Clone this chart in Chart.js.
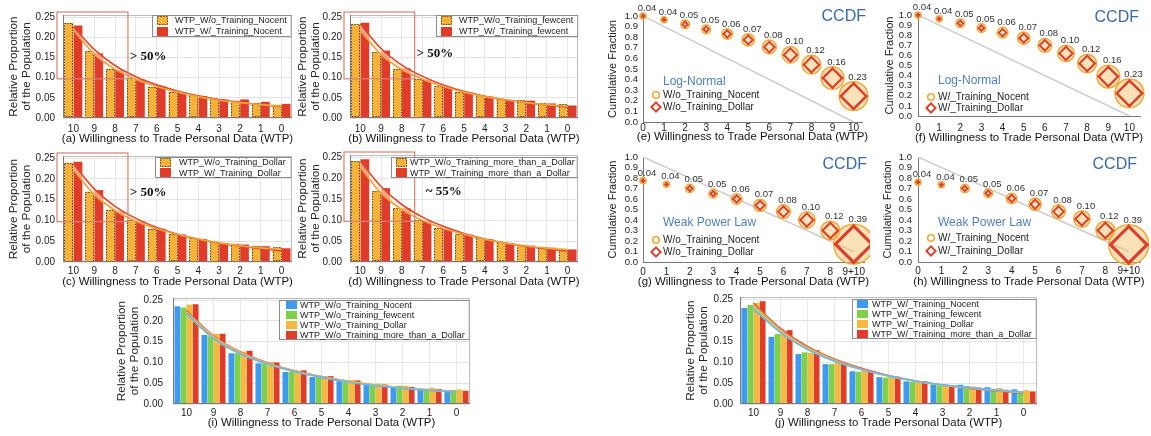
<!DOCTYPE html>
<html><head><meta charset="utf-8">
<script src="https://cdn.jsdelivr.net/npm/chart.js@4.4.1/dist/chart.umd.min.js"></script>
<style>
html,body{margin:0;padding:0;background:#fff;}
body{width:1151px;height:436px;position:relative;overflow:hidden;}
canvas{position:absolute;}
</style></head><body>
<script>
const FONT = '"Liberation Sans", Arial, Helvetica, sans-serif';
const SERIF = '"Liberation Serif", "Times New Roman", serif';

// ---------------- data ----------------
const wtpLabels = ['10','9','8','7','6','5','4','3','2','1','0'];

const woNocent  = [0.235, 0.166, 0.122, 0.098, 0.077, 0.065, 0.056, 0.048, 0.043, 0.037, 0.033];
const wNocent   = [0.229, 0.160, 0.119, 0.095, 0.078, 0.064, 0.054, 0.046, 0.046, 0.040, 0.035];
const woFewcent = [0.232, 0.163, 0.122, 0.097, 0.078, 0.065, 0.056, 0.048, 0.044, 0.037, 0.034];
const wFewcent  = [0.236, 0.167, 0.123, 0.095, 0.077, 0.063, 0.053, 0.044, 0.043, 0.036, 0.031];
const woDollar  = [0.239, 0.169, 0.126, 0.101, 0.080, 0.067, 0.058, 0.049, 0.044, 0.039, 0.035];
const wDollar   = [0.241, 0.173, 0.122, 0.098, 0.080, 0.066, 0.055, 0.046, 0.042, 0.038, 0.033];
const woMore    = [0.240, 0.169, 0.128, 0.100, 0.081, 0.067, 0.057, 0.047, 0.041, 0.036, 0.032];
const wMore     = [0.245, 0.176, 0.128, 0.098, 0.079, 0.065, 0.054, 0.045, 0.039, 0.034, 0.030];

// fitted curves
const fitWoNocent  = [0.218, 0.158, 0.121, 0.096, 0.078, 0.064, 0.053, 0.044, 0.038, 0.033, 0.029];
const fitWNocent   = [0.226, 0.170, 0.130, 0.102, 0.082, 0.067, 0.055, 0.046, 0.039, 0.033, 0.028];
const fitWoFewcent = [0.216, 0.157, 0.120, 0.096, 0.078, 0.064, 0.053, 0.045, 0.038, 0.033, 0.029];
const fitWFewcent  = [0.232, 0.172, 0.131, 0.103, 0.082, 0.066, 0.054, 0.045, 0.038, 0.032, 0.027];
const fitWoDollar  = [0.222, 0.162, 0.124, 0.098, 0.080, 0.066, 0.055, 0.046, 0.039, 0.034, 0.030];
const fitWDollar   = [0.236, 0.176, 0.134, 0.105, 0.083, 0.067, 0.055, 0.045, 0.038, 0.032, 0.027];
const fitWoMore    = [0.225, 0.164, 0.125, 0.099, 0.080, 0.066, 0.054, 0.045, 0.038, 0.033, 0.029];
const fitWMore     = [0.240, 0.180, 0.137, 0.107, 0.085, 0.068, 0.055, 0.045, 0.037, 0.031, 0.026];

// CCDF panels
const ccdfX      = [0, 1, 2, 3, 4, 5, 6, 7, 8, 9, 10];
const ccdfXpl    = [0, 1, 2, 3, 4, 5, 6, 7, 8, 9];
const ccdfXplLbl = ['0','1','2','3','4','5','6','7','8','9+10'];
const eNocent = [1.0, 0.965, 0.921, 0.874, 0.830, 0.774, 0.708, 0.635, 0.541, 0.415, 0.245];
const eDollar = [1.0, 0.965, 0.922, 0.876, 0.830, 0.774, 0.707, 0.633, 0.540, 0.414, 0.244];
const eProp   = [0.04, 0.04, 0.05, 0.05, 0.06, 0.07, 0.08, 0.10, 0.12, 0.16, 0.23];
const fNocent = [1.0, 0.962, 0.918, 0.870, 0.825, 0.770, 0.700, 0.620, 0.520, 0.390, 0.225];
const fDollar = [1.0, 0.962, 0.918, 0.870, 0.825, 0.770, 0.700, 0.620, 0.520, 0.390, 0.225];
const fProp   = [0.04, 0.04, 0.05, 0.05, 0.06, 0.07, 0.08, 0.10, 0.12, 0.16, 0.23];
const gNocent = [0.775, 0.740, 0.700, 0.650, 0.600, 0.540, 0.480, 0.400, 0.300, 0.170];
const gDollar = [0.775, 0.740, 0.700, 0.650, 0.600, 0.540, 0.480, 0.400, 0.300, 0.170];
const gProp   = [0.04, 0.04, 0.05, 0.05, 0.06, 0.07, 0.08, 0.10, 0.12, 0.39];
const hNocent = [0.760, 0.735, 0.700, 0.655, 0.605, 0.550, 0.480, 0.410, 0.300, 0.165];
const hDollar = [0.760, 0.735, 0.700, 0.655, 0.605, 0.550, 0.480, 0.410, 0.300, 0.165];
const hProp   = [0.04, 0.04, 0.05, 0.05, 0.06, 0.07, 0.08, 0.10, 0.12, 0.39];
const refLogX = [0, 10], refLogY = [1, 0];
const refPlX  = [0, 9],  refPlY  = [1, 0.1];

// ---------------- styles ----------------
const ORANGE = '#F5B237', RED = '#E13C2A', BLUE = '#3C9BF1', GREEN = '#7ED04B', ORANGE2 = '#F7B83E';

Chart.defaults.font.family = FONT;
Chart.defaults.color = '#222';

function mk(box) {
  const c = document.createElement('canvas');
  c.width = box.w; c.height = box.h;
  c.style.cssText = `left:${box.x}px;top:${box.y}px;width:${box.w}px;height:${box.h}px`;
  document.body.appendChild(c);
  return c;
}
function zeroPad(s) { s.paddingTop = 0; s.paddingBottom = 0; s.paddingLeft = 0; s.paddingRight = 0; }

function capPlugin(text, y) {
  return { id: 'cap', afterDraw(chart) {
    const ctx = chart.ctx, a = chart.chartArea;
    ctx.save(); ctx.font = '11.4px ' + FONT; ctx.fillStyle = '#111';
    ctx.textAlign = 'center'; ctx.textBaseline = 'middle';
    ctx.fillText(text, (a.left + a.right) / 2, y);
    ctx.restore();
  }};
}

function barPanel(p) {
  const cv = mk(p.box);
  const datasets = [];
  p.fits.forEach((f, i) => datasets.push({
    type: 'line', data: f.data, borderColor: f.color, borderWidth: 1.6, pointRadius: 0,
    cubicInterpolationMode: 'monotone', fill: i === 0 ? false : '-1', backgroundColor: p.band, order: 0
  }));
  p.bars.forEach(b => datasets.push({
    type: 'bar', data: b.data, backgroundColor: b.color, borderWidth: 0, dotted: !!b.dotted, order: 1,
    categoryPercentage: p.catPct, barPercentage: p.barPct
  }));
  const plugins = [
    { id: 'frame', beforeDatasetsDraw(chart) {
      const ctx = chart.ctx, a = chart.chartArea;
      ctx.save(); ctx.lineWidth = 1;
      ctx.strokeStyle = '#bdbdbd';
      ctx.beginPath(); ctx.moveTo(a.left, a.top + 0.5); ctx.lineTo(a.right - 0.5, a.top + 0.5); ctx.lineTo(a.right - 0.5, a.bottom); ctx.stroke();
      ctx.restore();
    }, afterDatasetsDraw(chart) {
      const ctx = chart.ctx, a = chart.chartArea;
      ctx.save(); ctx.lineWidth = 1; ctx.strokeStyle = '#7a7a7a';
      ctx.beginPath(); ctx.moveTo(a.left + 0.5, a.top); ctx.lineTo(a.left + 0.5, a.bottom - 0.5); ctx.lineTo(a.right, a.bottom - 0.5); ctx.stroke();
      ctx.restore();
    }},
    { id: 'dotted', afterDatasetDraw(chart, args) {
      const ds = chart.data.datasets[args.index];
      if (!ds.dotted) return;
      const ctx = chart.ctx;
      ctx.save(); ctx.setLineDash([1.4, 1.4]); ctx.strokeStyle = '#4b4030'; ctx.lineWidth = 1;
      args.meta.data.forEach(el => {
        const { x, y, base, width } = el.getProps(['x', 'y', 'base', 'width'], true);
        ctx.strokeRect(Math.round(x - width / 2) + 0.5, Math.round(y) + 0.5, Math.round(width) - 1, Math.round(base - y) - 1);
      });
      ctx.restore();
    }},
    { id: 'annot', afterDatasetsDraw(chart) {
      if (!p.annot) return;
      const ctx = chart.ctx, a = chart.chartArea, xs = chart.scales.x, ys = chart.scales.y;
      const r = xs.getPixelForValue(p.annot.boxTo);
      const b = ys.getPixelForValue(p.annot.boxBottom);
      ctx.save();
      ctx.strokeStyle = '#d9806f'; ctx.lineWidth = 1.2;
      ctx.strokeRect(a.left - 6, a.top - 3, r - (a.left - 6), b - (a.top - 3));
      ctx.font = 'bold 13px ' + SERIF; ctx.fillStyle = '#111';
      ctx.textAlign = 'left'; ctx.textBaseline = 'middle';
      ctx.fillText(p.annot.text, r + p.annot.dx, ys.getPixelForValue(p.annot.textY));
      ctx.restore();
    }},
    { id: 'boxLegend', afterDraw(chart) {
      const o = p.legend, ctx = chart.ctx, a = chart.chartArea;
      ctx.save();
      ctx.font = '9px ' + FONT;
      const tw = Math.max(...o.items.map(it => ctx.measureText(it.text).width));
      const w = o.padL + o.sw + o.gap + tw + o.padR;
      const h = o.padT * 2 + o.items.length * o.rowH;
      const x0 = Math.round(a.right - w), y0 = Math.round(a.top + o.dy);
      ctx.fillStyle = 'rgba(255,255,255,0.95)'; ctx.fillRect(x0, y0, w, h);
      ctx.strokeStyle = '#8c8c8c'; ctx.lineWidth = 1; ctx.strokeRect(x0 + 0.5, y0 + 0.5, w - 1, h - 1);
      o.items.forEach((it, i) => {
        const cy = y0 + o.padT + o.rowH * (i + 0.5);
        const sx = x0 + o.padL, sy = Math.round(cy - o.sh / 2);
        ctx.fillStyle = it.color; ctx.fillRect(sx, sy, o.sw, o.sh);
        if (it.dotted) {
          ctx.save(); ctx.setLineDash([1.4, 1.4]); ctx.strokeStyle = '#4b4030';
          ctx.strokeRect(sx + 0.5, sy + 0.5, o.sw - 1, o.sh - 1); ctx.restore();
        }
        ctx.fillStyle = '#222'; ctx.textAlign = 'left'; ctx.textBaseline = 'middle';
        ctx.fillText(it.text, sx + o.sw + o.gap, cy + 0.5);
      });
      ctx.restore();
    }},
    capPlugin(p.caption, p.capY - p.box.y)
  ];
  new Chart(cv, {
    type: 'bar',
    data: { labels: wtpLabels, datasets },
    plugins,
    options: {
      responsive: false, animation: false, devicePixelRatio: 1, events: [],
      layout: { autoPadding: false, padding: { left: 0, top: p.area.T - p.box.y, right: p.box.x + p.box.w - p.area.R, bottom: 0 } },
      plugins: { legend: { display: false }, tooltip: { enabled: false } },
      scales: {
        x: {
          type: 'category', offset: true,
          grid: { offset: false, color: '#e8e8e8', drawTicks: false }, border: { display: false },
          ticks: { autoSkip: false, maxRotation: 0, padding: p.xtPad, color: '#222', font: { size: 10 } },
          afterFit(s) { s.height = p.box.y + p.box.h - p.area.B; zeroPad(s); }
        },
        y: {
          min: 0, max: 0.255,
          grid: { color: '#e3e3e3', drawTicks: false }, border: { display: false },
          ticks: { stepSize: 0.05, includeBounds: false, autoSkip: false, padding: p.ytPad, color: '#222', font: { size: 10 }, callback: v => v.toFixed(2) },
          title: { display: true, text: ['Relative Proportion', 'of the Population'], color: '#222', font: { size: 11.8, lineHeight: 1.1 }, padding: { top: p.ytitlePad, bottom: 0 } },
          afterFit(s) { s.width = p.area.L - p.box.x; zeroPad(s); }
        }
      }
    }
  });
}

function diamondR(v) { return 34 * Math.pow(Math.max(v - 0.035, 0.0005), 0.6); }
function circleR(v) { return Math.max(3, diamondR(v) + 1.6); }

function ccdfPanel(p) {
  const cv = mk(p.box);
  const circ = p.xs.map((x, i) => ({ x, y: p.noc[i] }));
  const dia = p.xs.map((x, i) => ({ x, y: p.dol[i] }));
  const ref = p.refX.map((x, i) => ({ x, y: p.refY[i] }));
  const pv = c => (c && c.dataIndex !== undefined ? p.prop[c.dataIndex] : 0.05);
  const plugins = [
    { id: 'plabels', afterDatasetsDraw(chart) {
      const ctx = chart.ctx, meta = chart.getDatasetMeta(1);
      ctx.save(); ctx.font = '9.5px ' + FONT; ctx.fillStyle = '#333';
      ctx.textAlign = 'center'; ctx.textBaseline = 'alphabetic';
      meta.data.forEach((el, i) => {
        const r = circleR(p.prop[i]);
        ctx.fillText(p.prop[i].toFixed(2), el.x + 4, el.y - r - 2);
      });
      ctx.restore();
    }},
    { id: 'clegend', afterDraw(chart) {
      const ctx = chart.ctx, a = chart.chartArea;
      ctx.save();
      ctx.font = '12px ' + FONT; ctx.fillStyle = '#4f7fb8'; ctx.textAlign = 'left'; ctx.textBaseline = 'middle';
      ctx.fillText(p.legTitle, a.left + 20, a.top + 66);
      ctx.font = '10px ' + FONT; ctx.fillStyle = '#222';
      const y1 = a.top + p.legY1, y2 = a.top + p.legY2;
      ctx.lineWidth = 1.6; ctx.strokeStyle = '#EEAA3A';
      ctx.beginPath(); ctx.arc(a.left + 13, y1, 3.3, 0, Math.PI * 2); ctx.stroke();
      ctx.lineWidth = 2; ctx.strokeStyle = '#D8412C';
      const dx = a.left + 13, r = 4.6;
      ctx.beginPath(); ctx.moveTo(dx, y2 - r); ctx.lineTo(dx + r, y2); ctx.lineTo(dx, y2 + r); ctx.lineTo(dx - r, y2); ctx.closePath(); ctx.stroke();
      ctx.fillText(p.legItems[0], a.left + 20, y1 + 0.5);
      ctx.fillText(p.legItems[1], a.left + 20, y2 + 0.5);
      ctx.font = '16px ' + FONT; ctx.fillStyle = '#3a6aa8'; ctx.textAlign = 'right';
      ctx.fillText('CCDF', a.right + p.ccdfDx, a.top + p.ccdfDy);
      ctx.restore();
    }},
    capPlugin(p.caption, p.capY - p.box.y)
  ];
  new Chart(cv, {
    type: 'scatter',
    data: { datasets: [
      { data: dia, pointStyle: 'rectRot', pointRadius: c => diamondR(pv(c)), pointBorderWidth: c => 1.6 + 4 * pv(c),
        pointBorderColor: '#D8412C', pointBackgroundColor: 'rgba(255,255,255,0)', order: 0, clip: false },
      { data: circ, pointStyle: 'circle', pointRadius: c => circleR(pv(c)), pointBorderWidth: 1.5,
        pointBorderColor: '#EEAA3A', pointBackgroundColor: 'rgba(245,188,95,0.45)', order: 1, clip: false },
      { data: ref, showLine: true, borderColor: '#cccccc', borderWidth: 1.5, pointRadius: 0, order: 2 }
    ]},
    plugins,
    options: {
      responsive: false, animation: false, devicePixelRatio: 1, events: [],
      layout: { autoPadding: false, padding: { left: 0, top: p.area.T - p.box.y, right: p.box.x + p.box.w - p.area.R, bottom: 0 } },
      plugins: { legend: { display: false }, tooltip: { enabled: false } },
      scales: {
        x: {
          type: 'linear', min: 0, max: p.xmax,
          grid: { display: false, drawTicks: false }, border: { display: true, color: '#777', width: 1 },
          ticks: { stepSize: 1, includeBounds: false, autoSkip: false, maxRotation: 0, padding: p.xtPad, color: '#222', font: { size: 10 },
                   callback: v => (p.xLabels ? p.xLabels[v] : String(v)) },
          afterFit(s) { s.height = p.box.y + p.box.h - p.area.B; zeroPad(s); }
        },
        y: {
          min: 0, max: 1,
          grid: { display: false, drawTicks: false }, border: { display: true, color: '#777', width: 1 },
          ticks: { stepSize: 0.1, autoSkip: false, padding: p.ytPad, color: '#222', font: { size: 9.5 }, callback: v => v.toFixed(1) },
          title: { display: true, text: 'Cumulative Fraction', color: '#222', font: { size: 11, lineHeight: 1.2 }, padding: { top: p.ytitlePad, bottom: 0 } },
          afterFit(s) { s.width = p.area.L - p.box.x; zeroPad(s); }
        }
      }
    }
  });
}

const cap = l => `(${l}) Willingness to Trade Personal Data (WTP)`;
const legAB = { dy: 0, rowH: 11, padT: 0, padL: 5, sw: 11, sh: 9, gap: 7, padR: 5 };
const legCD = { dy: 1, rowH: 10.5, padT: 0, padL: 5, sw: 11, sh: 9, gap: 6, padR: 4 };

barPanel({ box: { x: 0, y: 0, w: 296, h: 145 }, area: { L: 63, T: 15, R: 292, B: 118 },
  ytitlePad: 7.5, ytPad: 8, xtPad: 5, capY: 138.5, caption: cap('a'), catPct: 0.88, barPct: 0.95,
  band: 'rgba(252,234,205,0.6)',
  bars: [{ data: woNocent, color: ORANGE, dotted: true }, { data: wNocent, color: RED }],
  fits: [{ data: fitWoNocent, color: '#F2A23A' }, { data: fitWNocent, color: '#DC4A33' }],
  legend: Object.assign({ items: [{ text: 'WTP_W/o_Training_Nocent', color: ORANGE, dotted: true }, { text: 'WTP_W/_Training_Nocent', color: RED }] }, legAB),
  annot: { boxTo: 2.62, boxBottom: 0.097, text: '> 50%', textY: 0.151, dx: 2 } });

barPanel({ box: { x: 296, y: 0, w: 290, h: 145 }, area: { L: 350, T: 15, R: 578, B: 118 },
  ytitlePad: 0.5, ytPad: 8, xtPad: 5, capY: 138.5, caption: cap('b'), catPct: 0.88, barPct: 0.95,
  band: 'rgba(252,234,205,0.6)',
  bars: [{ data: woFewcent, color: ORANGE, dotted: true }, { data: wFewcent, color: RED }],
  fits: [{ data: fitWoFewcent, color: '#F2A23A' }, { data: fitWFewcent, color: '#DC4A33' }],
  legend: Object.assign({ items: [{ text: 'WTP_W/o_Training_fewcent', color: ORANGE, dotted: true }, { text: 'WTP_W/_Training_fewcent', color: RED }] }, legAB),
  annot: { boxTo: 2.62, boxBottom: 0.097, text: '> 50%', textY: 0.160, dx: 2 } });

barPanel({ box: { x: 0, y: 145, w: 296, h: 145 }, area: { L: 63, T: 156, R: 292, B: 262 },
  ytitlePad: 7.5, ytPad: 8, xtPad: 3, capY: 281.5, caption: cap('c'), catPct: 0.88, barPct: 0.95,
  band: 'rgba(252,234,205,0.6)',
  bars: [{ data: woDollar, color: ORANGE, dotted: true }, { data: wDollar, color: RED }],
  fits: [{ data: fitWoDollar, color: '#F2A23A' }, { data: fitWDollar, color: '#DC4A33' }],
  legend: Object.assign({ items: [{ text: 'WTP_W/o_Training_Dollar', color: ORANGE, dotted: true }, { text: 'WTP_W/_Training_Dollar', color: RED }] }, legCD, { gap: 8, padR: 6 }),
  annot: { boxTo: 2.62, boxBottom: 0.097, text: '> 50%', textY: 0.166, dx: 2 } });

barPanel({ box: { x: 296, y: 145, w: 290, h: 145 }, area: { L: 350, T: 155, R: 578, B: 262 },
  ytitlePad: 0.5, ytPad: 8, xtPad: 3, capY: 281.5, caption: cap('d'), catPct: 0.88, barPct: 0.95,
  band: 'rgba(252,234,205,0.6)',
  bars: [{ data: woMore, color: ORANGE, dotted: true }, { data: wMore, color: RED }],
  fits: [{ data: fitWoMore, color: '#F2A23A' }, { data: fitWMore, color: '#DC4A33' }],
  legend: Object.assign({ items: [{ text: 'WTP_W/o_Training_more_than_a_Dollar', color: ORANGE, dotted: true }, { text: 'WTP_W/_Training_more_than_a_Dollar', color: RED }] }, legCD, { dy: 2, gap: 3, padR: 3 }),
  annot: { boxTo: 2.62, boxBottom: 0.097, text: '~ 55%', textY: 0.167, dx: 11 } });

barPanel({ box: { x: 105, y: 290, w: 375, h: 146 }, area: { L: 173, T: 298, R: 470, B: 404 },
  ytitlePad: 10.5, ytPad: 10, xtPad: 3, capY: 423, caption: cap('i'), catPct: 0.9, barPct: 0.96,
  band: 'rgba(255,242,215,0.35)',
  bars: [{ data: woNocent, color: BLUE }, { data: woFewcent, color: GREEN }, { data: woDollar, color: ORANGE2 }, { data: woMore, color: RED }],
  fits: [{ data: fitWoNocent, color: '#74B3EE' }, { data: fitWoFewcent, color: '#98D573' }, { data: fitWoDollar, color: '#F3B552' }, { data: fitWoMore, color: '#E0543F' }],
  legend: { items: [{ text: 'WTP_W/o_Training_Nocent', color: BLUE }, { text: 'WTP_W/o_Training_fewcent', color: GREEN }, { text: 'WTP_W/o_Training_Dollar', color: ORANGE2 }, { text: 'WTP_W/o_Training_more_than_a_Dollar', color: RED }],
    dy: 2, rowH: 10, padT: 0, padL: 7, sw: 11, sh: 8, gap: 3, padR: 5 } });

barPanel({ box: { x: 675, y: 290, w: 375, h: 146 }, area: { L: 740, T: 297, R: 1037, B: 404 },
  ytitlePad: 9.5, ytPad: 7, xtPad: 3, capY: 422.5, caption: cap('j'), catPct: 0.9, barPct: 0.96,
  band: 'rgba(255,242,215,0.35)',
  bars: [{ data: wNocent, color: BLUE }, { data: wFewcent, color: GREEN }, { data: wDollar, color: ORANGE2 }, { data: wMore, color: RED }],
  fits: [{ data: fitWNocent, color: '#74B3EE' }, { data: fitWFewcent, color: '#98D573' }, { data: fitWDollar, color: '#F3B552' }, { data: fitWMore, color: '#E0543F' }],
  legend: { items: [{ text: 'WTP_W/_Training_Nocent', color: BLUE }, { text: 'WTP_W/_Training_fewcent', color: GREEN }, { text: 'WTP_W/_Training_Dollar', color: ORANGE2 }, { text: 'WTP_W/_Training_more_than_a_Dollar', color: RED }],
    dy: 2, rowH: 10, padT: 0, padL: 5, sw: 11, sh: 8, gap: 4, padR: 5 } });

ccdfPanel({ box: { x: 600, y: 0, w: 270, h: 145 }, area: { L: 643, T: 16, R: 862, B: 122 }, xmax: 10.4,
  xs: ccdfX, noc: eNocent, dol: eDollar, prop: eProp, refX: refLogX, refY: refLogY,
  ytitlePad: 6.4, ytPad: 5, xtPad: 0, capY: 137, caption: cap('e'),
  legTitle: 'Log-Normal', legItems: ['W/o_Training_Nocent', 'W/o_Training_Dollar'], legY1: 79, legY2: 91, ccdfDx: 4, ccdfDy: 1 });

ccdfPanel({ box: { x: 875, y: 0, w: 276, h: 145 }, area: { L: 918, T: 15, R: 1140, B: 116 }, xmax: 10.5,
  xs: ccdfX, noc: fNocent, dol: fDollar, prop: fProp, refX: refLogX, refY: refLogY,
  ytitlePad: 8.4, ytPad: 6, xtPad: 6, capY: 137.5, caption: cap('f'),
  legTitle: 'Log-Normal', legItems: ['W/_Training_Nocent', 'W/_Training_Dollar'], legY1: 82, legY2: 93, ccdfDx: -1, ccdfDy: 3 });

ccdfPanel({ box: { x: 600, y: 145, w: 270, h: 145 }, area: { L: 643, T: 157, R: 864, B: 262 }, xmax: 9.44,
  xs: ccdfXpl, xLabels: ccdfXplLbl, noc: gNocent, dol: gDollar, prop: gProp, refX: refPlX, refY: refPlY,
  ytitlePad: 6.4, ytPad: 5, xtPad: 4, capY: 282, caption: cap('g'),
  legTitle: 'Weak Power Law', legItems: ['W/o_Training_Nocent', 'W/o_Training_Dollar'], legY1: 83, legY2: 95, ccdfDx: 3, ccdfDy: 8 });

ccdfPanel({ box: { x: 875, y: 145, w: 276, h: 145 }, area: { L: 918, T: 157, R: 1140, B: 262 }, xmax: 9.48,
  xs: ccdfXpl, xLabels: ccdfXplLbl, noc: hNocent, dol: hDollar, prop: hProp, refX: refPlX, refY: refPlY,
  ytitlePad: 6.4, ytPad: 6, xtPad: 3, capY: 281.5, caption: cap('h'),
  legTitle: 'Weak Power Law', legItems: ['W/_Training_Nocent', 'W/_Training_Dollar'], legY1: 81, legY2: 94, ccdfDx: -3, ccdfDy: 8 });
</script>
</body></html>
